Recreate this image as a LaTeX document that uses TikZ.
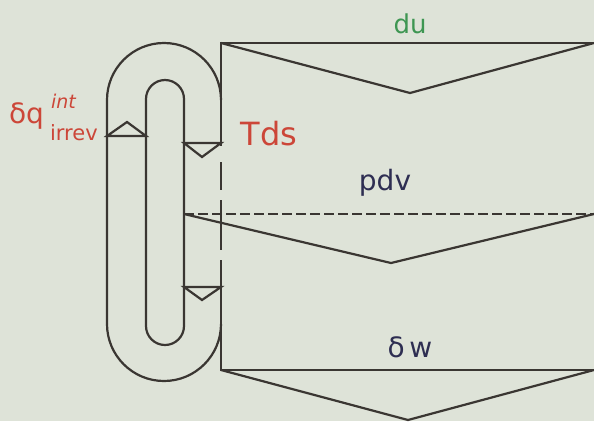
\documentclass[tikz,border=0pt]{standalone}
\usepackage{fontspec}
\setmainfont{DejaVu Sans}
\usetikzlibrary{positioning}
\definecolor{paper}{RGB}{222,227,216}
\definecolor{ink}{RGB}{58,54,50}
\definecolor{heatred}{RGB}{204,70,56}
\definecolor{energygreen}{RGB}{62,150,82}
\definecolor{worknavy}{RGB}{46,46,82}

\begin{document}
\begin{tikzpicture}[x=1pt,y=-1pt,line width=2.2pt,draw=ink,
    lbl/.style={anchor=base,inner sep=0pt}]
    \fill[paper] (0,0) rectangle (594,421);
    \useasboundingbox (0,0) rectangle (594,421);
    % U-tube, outer and inner wall
    \coordinate (OL) at (107,324);
    \coordinate (OR) at (221,324);
    \draw (OL)--(107,100) arc[start angle=180,end angle=360,radius=57];
    \draw (OL) arc[start angle=180,end angle=0,radius=57];
    \draw (146,326)--(146,99) arc[start angle=180,end angle=360,radius=19]
          --(184,326) arc[start angle=0,end angle=180,radius=19];
    % box corners
    \coordinate (T1) at (221,43);
    \coordinate (T2) at (594,43);
    \coordinate (TV) at (410,93);
    \coordinate (M1) at (184,214);
    \coordinate (M2) at (594,214);
    \coordinate (MV) at (391,263);
    \coordinate (B1) at (221,370);
    \coordinate (B2) at (594,370);
    \coordinate (BV) at (408,420);
    \draw (T2)--(T1)--(221,146);
    \draw[dash pattern=on 0pt off 16pt on 28pt off 10pt on 50pt off 10pt] (221,146)--(221,260);
    \draw (221,260)--(B1)--(B2);
    \draw (T1)--(TV)--(T2);
    \draw[dash pattern=on 10pt off 4pt] (M1)--(M2);
    \draw (M1)--(MV)--(M2);
    \draw (B1)--(BV)--(B2);
    % little flow triangles
    \draw (107,136)--(127,122)--(146,136)--cycle;
    \draw (184,143)--(202,157)--(221,143)--cycle;
    \draw (184,287)--(202,300)--(221,287)--cycle;
    % labels
    \node[lbl,text=energygreen,font=\fontsize{26}{30}\selectfont] (du) at (410,33) {du};
    \node[lbl,text=heatred,font=\fontsize{32}{38}\selectfont] (tds) at (269,145) {Tds};
    \node[lbl,text=worknavy,font=\fontsize{28}{32}\selectfont] (pdv) at (385,190) {pdv};
    \node[lbl,text=worknavy,font=\fontsize{28}{32}\selectfont] (dw) at (410,357) {δ\,w};
    \node[lbl,anchor=base west,text=heatred,font=\fontsize{28}{32}\selectfont] (dq) at (8,123) {δq};
    \node[lbl,anchor=base west,text=heatred,font=\fontsize{19}{22}\selectfont\itshape] (int) at (50,108) {int};
    \node[lbl,anchor=base west,text=heatred,font=\fontsize{21}{24}\selectfont] (irrev) at (49,140) {irrev};
\end{tikzpicture}
\end{document}
